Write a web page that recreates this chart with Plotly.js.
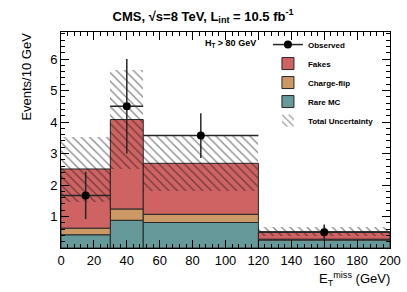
<!DOCTYPE html>
<html>
<head>
<meta charset="utf-8">
<script src="https://cdn.plot.ly/plotly-3.0.1.min.js"></script>
<style>html,body{margin:0;padding:0;background:#fff;}#chart{width:407px;height:292px;}</style>
</head>
<body>
<div id="chart"></div>
<script>
// Bins of E_T^miss (GeV)
var binLow = [0, 30, 50, 120];
var binHigh = [30, 50, 120, 200];
// Stack components (events / 10 GeV)
var rareMC = [0.42, 0.88, 0.81, 0.25];
var chargeFlip = [0.21, 0.36, 0.26, 0.03];
var fakes = [1.88, 2.84, 1.62, 0.24];
// Total uncertainty band
var uncLow = [1.46, 2.51, 1.82, 0.38];
var uncHigh = [3.53, 5.65, 3.57, 0.66];
// Observed data
var obsX = [15, 40, 85, 160];
var obsY = [1.67, 4.5, 3.57, 0.5];
var obsErr = [0.75, 1.5, 0.71, 0.25];

var centers = binLow.map(function(l, i){ return (l + binHigh[i]) / 2; });
var widths = binLow.map(function(l, i){ return binHigh[i] - l; });
var halfW = widths.map(function(w){ return w / 2; });
var base2 = rareMC.slice();
var base3 = rareMC.map(function(v, i){ return v + chargeFlip[i]; });
var uncSize = uncHigh.map(function(h, i){ return h - uncLow[i]; });

var FONT = 'Liberation Sans, Arial, Helvetica, sans-serif';
var edge = {color: '#262626', width: 1};

var traces = [
  {type: 'bar', name: 'Rare MC', x: centers, y: rareMC, width: widths, base: [0,0,0,0],
   marker: {color: '#669999', line: edge}, legendrank: 4, hoverinfo: 'skip'},
  {type: 'bar', name: 'Charge-flip', x: centers, y: chargeFlip, width: widths, base: base2,
   marker: {color: '#cc9966', line: edge}, legendrank: 3, hoverinfo: 'skip'},
  {type: 'bar', name: 'Fakes', x: centers, y: fakes, width: widths, base: base3,
   marker: {color: '#cf6363', line: edge}, legendrank: 2, hoverinfo: 'skip'},
  {type: 'bar', name: 'Total Uncertainty', x: centers, y: uncSize, width: widths, base: uncLow,
   marker: {color: 'rgba(0,0,0,0)', line: {width: 0},
            pattern: {shape: '\\', fgcolor: '#111', bgcolor: 'rgba(0,0,0,0)', size: 6, solidity: 0.22, fillmode: 'overlay'}},
   legendrank: 5, hoverinfo: 'skip'},
  {type: 'scatter', mode: 'markers', name: 'Observed', x: obsX, y: obsY, showlegend: false,
   marker: {color: '#000', size: 8},
   error_y: {type: 'data', array: obsErr, symmetric: true, color: '#262626', thickness: 1.5, width: 0},
   error_x: {type: 'data', array: halfW, symmetric: true, color: '#262626', thickness: 1.5, width: 0}},
  {type: 'scatter', mode: 'lines+markers', name: 'Observed', x: [null], y: [null], legendrank: 1,
   marker: {color: '#000', size: 8}, line: {color: '#262626', width: 1.5}}
];

var layout = {
  width: 407, height: 292,
  margin: {l: 61, r: 17, t: 32, b: 44, pad: 0},
  paper_bgcolor: '#fff', plot_bgcolor: '#fff',
  barmode: 'overlay', bargap: 0,
  showlegend: true,
  font: {family: FONT, color: '#000'},
  title: {text: '<b>CMS, √s=8 TeV, L<sub>int</sub> = 10.5 fb<sup>-1</sup></b>',
          font: {family: FONT, size: 13, color: '#000'},
          x: 0.499, xref: 'container', xanchor: 'center', y: 0.945, yref: 'container', yanchor: 'middle'},
  xaxis: {range: [0, 200], tickmode: 'linear', tick0: 0, dtick: 20,
          ticks: 'inside', ticklen: 8, tickwidth: 1, tickcolor: '#000',
          showline: true, linecolor: '#000', linewidth: 1, mirror: 'ticks',
          showgrid: false, zeroline: false,
          tickfont: {family: FONT, size: 13, color: '#000'},
          minor: {ticks: 'inside', ticklen: 4, tickcolor: '#000', tickmode: 'linear', tick0: 0, dtick: 4, showgrid: false}},
  yaxis: {range: [0, 6.86], tickmode: 'array', tickvals: [1, 2, 3, 4, 5, 6],
          ticks: 'inside', ticklen: 8, tickwidth: 1, tickcolor: '#000',
          showline: true, linecolor: '#000', linewidth: 1, mirror: 'ticks',
          showgrid: false, zeroline: false,
          tickfont: {family: FONT, size: 13, color: '#000'},
          minor: {ticks: 'inside', ticklen: 4, tickcolor: '#000', tickmode: 'linear', tick0: 0, dtick: 0.2, showgrid: false}},
  legend: {x: 0.629, y: 1.009, xanchor: 'left', yanchor: 'top', bgcolor: 'rgba(0,0,0,0)',
           traceorder: 'normal', itemwidth: 30,
           font: {family: FONT, size: 8, color: '#000', weight: 'bold'}},
  annotations: [
    {text: 'Events/10 GeV', textangle: -90, xref: 'paper', yref: 'paper', x: -0.106, y: 0.794,
     xanchor: 'center', yanchor: 'middle', showarrow: false, font: {family: FONT, size: 13, color: '#000'}},
    {text: 'E<sub>T</sub><sup>miss</sup> (GeV)', xref: 'paper', yref: 'paper', x: 1.006, y: -0.1435,
     xanchor: 'right', yanchor: 'middle', showarrow: false, font: {family: FONT, size: 13, color: '#000'}},
    {text: '<b>H<sub>T</sub> &gt; 80 GeV</b>', xref: 'paper', yref: 'paper', x: 0.432, y: 0.947,
     xanchor: 'left', yanchor: 'middle', showarrow: false, font: {family: FONT, size: 9, color: '#000'}}
  ]
};

Plotly.newPlot('chart', traces, layout, {displayModeBar: false, staticPlot: true});
</script>
</body>
</html>
